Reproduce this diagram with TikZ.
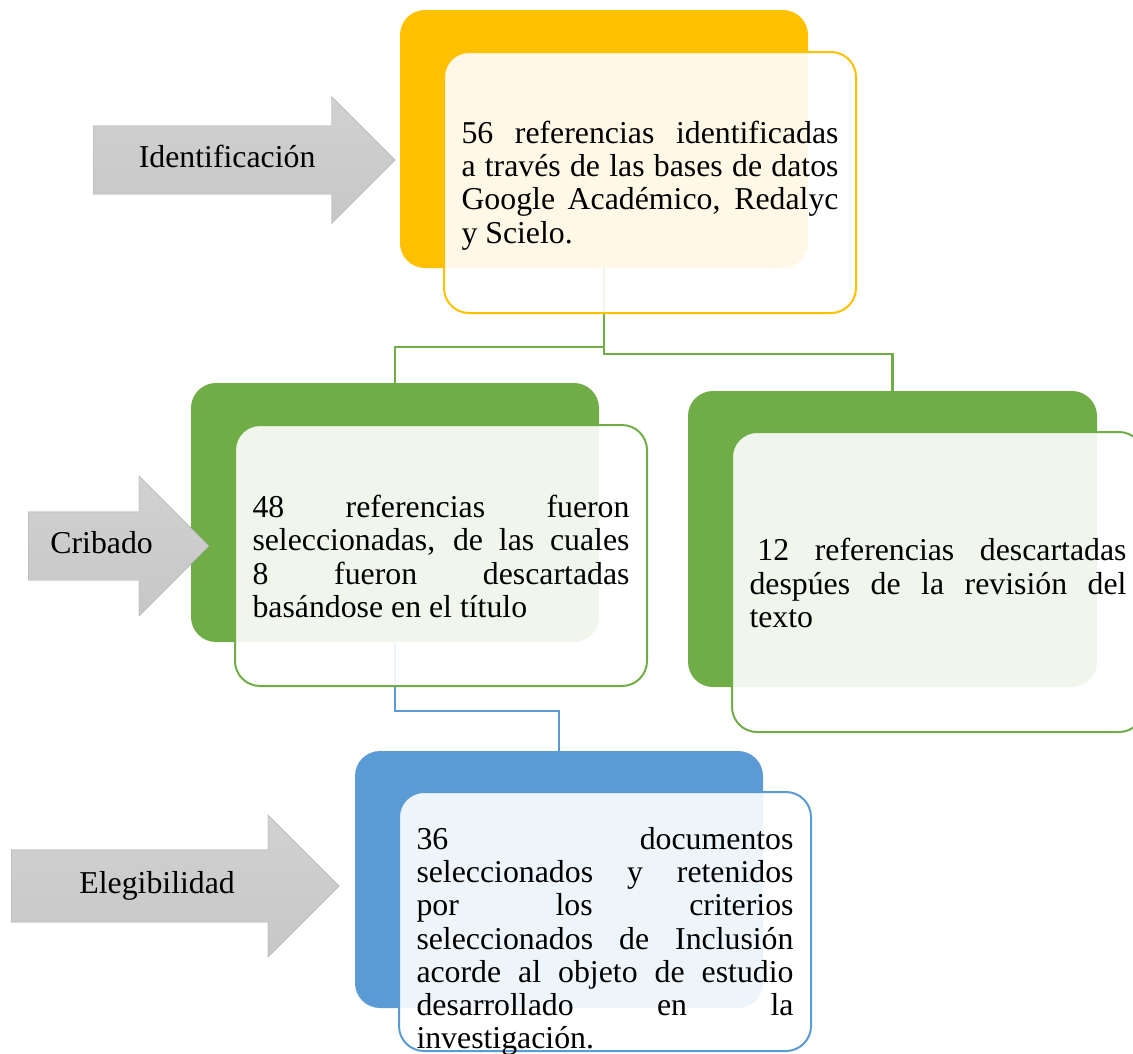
\documentclass[tikz,border=0pt]{standalone}
\usepackage{fontspec}
\setmainfont{Liberation Serif}
\usepackage{tikz}
\usetikzlibrary{shapes.arrows}
\definecolor{yelc}{HTML}{FFC000}
\definecolor{grnc}{HTML}{70AD47}
\definecolor{bluc}{HTML}{5B9BD5}
\begin{document}
\begin{tikzpicture}[
  x=1pt, y=-1pt,
  font=\fontsize{31.8}{33.2}\selectfont,
  back/.style={rounded corners=25pt, inner sep=0pt, minimum width=408pt, minimum height=258pt},
  front/.style={draw, line width=2pt, rounded corners=25pt, fill=white, fill opacity=0.9, inner sep=0pt, minimum width=412pt, minimum height=261pt},
  txt/.style={text width=377pt, align=justify, inner sep=0pt, execute at begin node={\spaceskip=.25em plus 1fil\parfillskip=0pt plus 1fill}},
  stage/.style={single arrow, draw=gray!70, top color=gray!36, bottom color=gray!44, minimum width=0pt, text height=22pt, text depth=8pt, inner ysep=19pt, anchor=tail, single arrow head extend=#1},
  conn/.style={line width=2.2pt, draw=#1}
]
\useasboundingbox (0,0) rectangle (1133,1053);
\node[back, fill=yelc] (idb) at (604,139) {};
\node[back, fill=grnc, minimum height=259pt] (crb) at (395,512.5) {};
\node[back, fill=grnc, minimum width=409pt, minimum height=296pt] (dsb) at (892.5,539) {};
\node[back, fill=bluc, minimum height=257pt] (elb) at (559,879.5) {};
\draw[conn=grnc] (idb.south) -- ++(0,79) -| (crb.north);
\draw[conn=grnc] (idb.south) -- ++(0,86) -| (dsb.north);
\draw[conn=bluc] (crb.south) -- ++(0,69) -| (elb.north);
\node[front, draw=yelc] (idf) at ([xshift=46pt,yshift=-43.5pt]idb.center) {};
\node[front, draw=grnc] (crf) at ([xshift=46pt,yshift=-43pt]crb.center) {};
\node[front, draw=grnc, minimum height=300pt] (dsf) at ([xshift=45.5pt,yshift=-43pt]dsb.center) {};
\node[front, draw=bluc, minimum height=259pt] (elf) at ([xshift=46pt,yshift=-42pt]elb.center) {};
\node[txt] (idt) at ([yshift=-3pt]idf.center) {56 referencias identificadas\linebreak a través de las bases de datos\linebreak Google Académico, Redalyc\linebreak y Scielo.};
\node[txt] (crt) at ([yshift=-1pt]crf.center) {48 referencias fueron\linebreak seleccionadas, de las cuales\linebreak 8 fueron descartadas\linebreak basándose en el título};
\node[txt] (dst) at ([yshift=-1pt]dsf.center) {\hspace*{.25em}12 referencias descartadas\linebreak despúes de la revisión del\linebreak texto};
\node[txt] (elt) at ([yshift=-20pt]elf.center) {36 documentos\linebreak seleccionados y retenidos\linebreak por los criterios\linebreak seleccionados de Inclusión\linebreak acorde al objeto de estudio\linebreak desarrollado en la\linebreak investigación.};
\node[stage=29.5pt, minimum height=302pt] (a1) at (93,160) {Identificación};
\node[stage=36pt, minimum height=181pt] (a2) at (28,546) {Cribado};
\node[stage=35pt, minimum height=328pt, inner ysep=21pt] (a3) at (11,886) {Elegibilidad};
\end{tikzpicture}
\end{document}
